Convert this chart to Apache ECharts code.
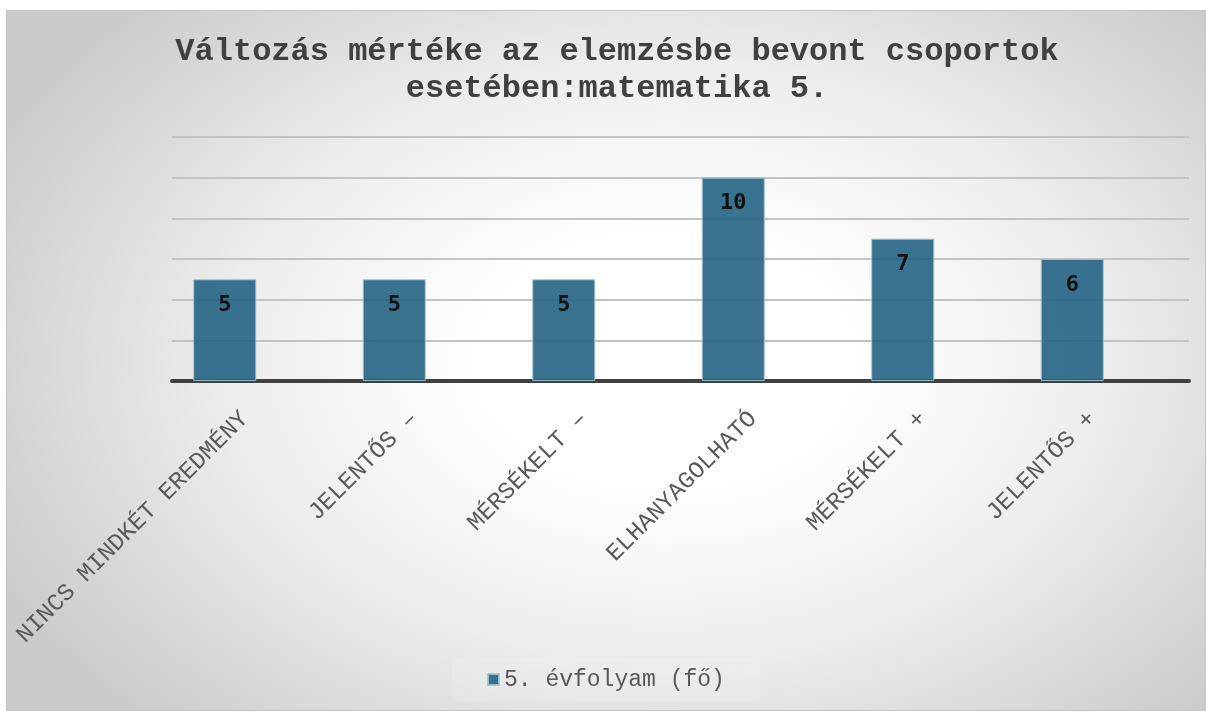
<!DOCTYPE html>
<html>
<head>
<meta charset="utf-8">
<script src="https://cdn.jsdelivr.net/npm/echarts@6/dist/echarts.min.js"></script>
<style>
  html, body { margin: 0; padding: 0; background: #ffffff; }
  .box {
    position: absolute; left: 6px; top: 10px; width: 1198px; height: 699px;
    border: 1px solid #c4c4c4;
    background: radial-gradient(ellipse 62% 72% at 55% 50%, #ffffff 25%, #ececec 60%, #cbcbcb 100%);
  }
  .chart { position: absolute; left: 0; top: 0; width: 1206px; height: 711px; }
</style>
</head>
<body>
<div class="box"></div>
<div class="chart" id="main"></div>
<script>
const titleText = 'Változás mértéke az elemzésbe bevont csoportok\nesetében:matematika 5.'
const seriesName = '5. évfolyam (fő)'
const categories = ['NINCS MINDKÉT EREDMÉNY', 'JELENTŐS –', 'MÉRSÉKELT –', 'ELHANYAGOLHATÓ', 'MÉRSÉKELT +', 'JELENTŐS +']
const values = [5, 5, 5, 10, 7, 6]

const mono = '"Liberation Mono", "DejaVu Sans Mono", monospace'
const plotTop = 137
const plotHeight = 244

let myChart = echarts.init(document.getElementById('main'))
myChart.setOption({
  backgroundColor: 'transparent',
  title: {
    text: titleText,
    left: 612,
    textAlign: 'center',
    top: 28,
    textStyle: {
      fontFamily: mono,
      fontWeight: 'bold',
      fontSize: 32,
      lineHeight: 37,
      color: '#404040'
    }
  },
  legend: {
    left: 452,
    top: 658,
    padding: [10, 35, 10, 35],
    backgroundColor: 'rgba(255,255,255,0.12)',
    icon: 'rect',
    itemWidth: 11,
    itemHeight: 11,
    textStyle: { fontFamily: mono, fontSize: 23, color: '#595959' },
    data: [seriesName]
  },
  grid: [
    // gridlines + axis line
    { left: 172, width: 1017, top: plotTop, height: plotHeight },
    // bars
    { left: 140, width: 1017, top: plotTop, height: plotHeight },
    // category labels
    { left: 160, width: 1017, top: plotTop, height: plotHeight }
  ],
  xAxis: [
    {
      gridIndex: 0, type: 'category', data: categories,
      axisLine: { show: true, lineStyle: { color: '#404040', width: 4 } },
      axisTick: { show: false }, axisLabel: { show: false }
    },
    {
      gridIndex: 1, type: 'category', data: categories,
      axisLine: { show: false }, axisTick: { show: false }, axisLabel: { show: false }
    },
    {
      gridIndex: 2, type: 'category', data: categories,
      axisLine: { show: false }, axisTick: { show: false },
      axisLabel: {
        rotate: 45, margin: 34, interval: 0,
        fontFamily: mono, fontSize: 24, color: '#595959'
      }
    }
  ],
  yAxis: [
    {
      gridIndex: 0, type: 'value', min: 0, max: 12, interval: 2,
      axisLabel: { show: false }, axisLine: { show: false }, axisTick: { show: false },
      splitLine: { lineStyle: { color: '#c3c3c3', width: 2 } }
    },
    {
      gridIndex: 1, type: 'value', min: 0, max: 12, interval: 2, show: false,
      splitLine: { show: false }
    },
    {
      gridIndex: 2, type: 'value', min: 0, max: 12, interval: 2, show: false,
      splitLine: { show: false }
    }
  ],
  series: [
    {
      name: seriesName,
      type: 'bar',
      xAxisIndex: 1,
      yAxisIndex: 1,
      data: values,
      barWidth: 63,
      z: 1,
      itemStyle: {
        color: 'rgba(31,96,128,0.88)',
        borderColor: 'rgba(160,195,212,0.9)',
        borderWidth: 1
      },
      label: {
        show: true,
        position: 'insideTop',
        distance: 15,
        fontFamily: '"DejaVu Sans Mono", monospace',
        fontWeight: 'bold',
        fontSize: 22,
        color: '#111111'
      }
    }
  ]
})
</script>
</body>
</html>
